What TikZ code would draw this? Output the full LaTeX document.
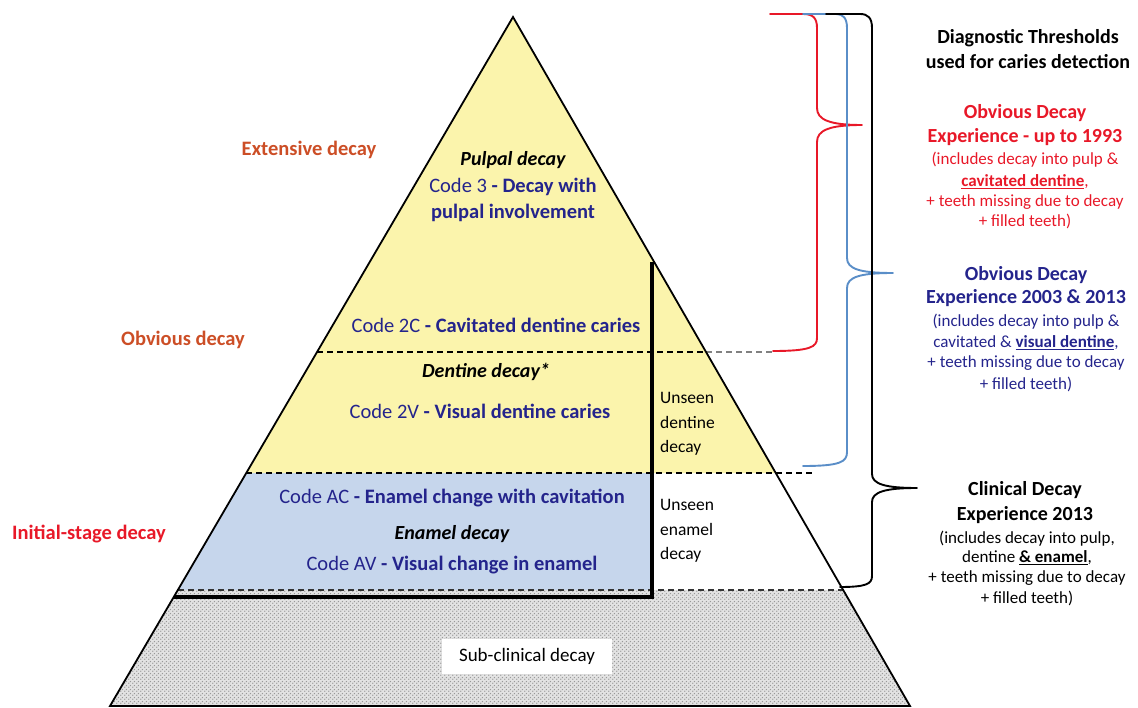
\documentclass[tikz,border=0pt]{standalone}
\usepackage{fontspec}
\setmainfont{Carlito}
\usetikzlibrary{patterns}
\definecolor{pyel}{RGB}{251,244,172}
\definecolor{pblue}{RGB}{198,214,236}
\definecolor{navy}{RGB}{36,36,140}
\definecolor{orred}{RGB}{204,78,38}
\definecolor{bred}{RGB}{232,24,40}
\definecolor{bbl}{RGB}{90,142,200}
\pgfdeclarepatternformonly{halftone}{\pgfpointorigin}{\pgfpoint{4pt}{4pt}}{\pgfpoint{4pt}{4pt}}{%
  \pgfpathcircle{\pgfpoint{1pt}{1pt}}{0.9pt}%
  \pgfpathcircle{\pgfpoint{3pt}{3pt}}{0.9pt}%
  \pgfusepath{fill}}
\tikzset{
  edge/.style={line width=1.8pt, line join=miter},
  dline/.style={line width=1.3pt, dash pattern=on 6pt off 4pt},
  thick line/.style={line width=3.5pt},
  brace/.style={line width=1.9pt, line join=round, line cap=round},
  lftlbl/.style={font=\fontsize{20.5}{24}\selectfont\bfseries, text=orred, inner sep=0pt},
  codetxt/.style={font=\fontsize{20.5}{24}\selectfont, text=navy, inner sep=0pt},
  itl/.style={font=\fontsize{20}{24}\selectfont\bfseries\itshape, text=black, inner sep=0pt},
  unseen/.style={font=\fontsize{17.5}{24.5}\selectfont, align=left, anchor=west, inner sep=0pt},
  head/.style={font=\fontsize{20}{24}\selectfont\bfseries, inner sep=0pt},
  small/.style={font=\fontsize{17}{20}\selectfont, inner sep=0pt},
}
\begin{document}
\begin{tikzpicture}[x=1pt,y=-1pt]
\useasboundingbox (0,0) rectangle (1138,708);
% key points
\coordinate (A) at (513,17);
\coordinate (BL) at (110,706);
\coordinate (BR) at (910,706);
\coordinate (L352) at (317,352);
\coordinate (R352) at (706,352);
\coordinate (L473) at (246,473);
\coordinate (R473) at (776,473);
\coordinate (L590) at (178,590);
\coordinate (R590) at (843,590);
\coordinate (L597) at (174,597);
\coordinate (V1) at (652,262);
\coordinate (V2) at (652,597);
% fills
\fill[pyel] (A) -- (L473) -- (R473) -- cycle;
\fill[pblue] (L473) -- (652,473) -- (V2) -- (L597) -- cycle;
\fill[gray!22] (L590) -- (R590) -- (BR) -- (BL) -- cycle;
\fill[pattern=halftone, pattern color=gray!80] (L590) -- (R590) -- (BR) -- (BL) -- cycle;
% dashed levels
\draw[dline] (L352) -- (R352);
\draw[dline, gray] (R352) -- (773,352);
\draw[dline] (L473) -- (813,473);
\draw[dline, black!80] (L590) -- (R590);
% outline
\draw[edge] (A) -- (BL) -- (BR) -- cycle;
% thick L line
\draw[thick line, line join=miter] (V1) -- (V2) -- (L597);
% braces
\draw[brace, bred] (770,14) -- (803,14) .. controls (813,14) and (817,18) .. (817,28)
  -- (817,108) .. controls (817,120) and (830,125) .. (862,125)
  .. controls (830,125) and (817,130) .. (817,142)
  -- (817,338) .. controls (817,347) and (810,351) .. (773,351);
\draw[brace, bbl] (803,14) -- (836,14) .. controls (843,14) and (847,18) .. (847,28)
  -- (847,258) .. controls (847,269) and (860,273) .. (893,273)
  .. controls (860,273) and (847,277) .. (847,288)
  -- (847,452) .. controls (847,462) and (840,466) .. (803,466);
\draw[brace, black] (826,14) -- (860,14) .. controls (868,14) and (872,18) .. (872,28)
  -- (872,474) .. controls (872,484) and (885,488) .. (917,488)
  .. controls (885,488) and (872,492) .. (872,502)
  -- (872,576) .. controls (872,584) and (866,587) .. (840,587);
% left labels
\node[lftlbl] (ext) at (309,150) {Extensive decay};
\node[lftlbl] (obv) at (183,340) {Obvious decay};
\node[lftlbl, text=bred] (ini) at (89,534) {Initial-stage decay};
% pyramid texts
\node[itl] (pulpal) at (513,160) {Pulpal decay};
\node[codetxt] (c3) at (513,187) {Code 3 \textbf{- Decay with}};
\node[codetxt] (c3b) at (513,213) {\textbf{pulpal involvement}};
\node[codetxt] (c2c) at (496,325) {Code 2C \textbf{- Cavitated dentine caries}};
\node[itl] (dent) at (486,372) {Dentine decay*};
\node[codetxt] (c2v) at (480,411) {Code 2V \textbf{- Visual dentine caries}};
\node[codetxt] (cac) at (452,498) {Code AC \textbf{- Enamel change with cavitation}};
\node[itl] (enam) at (452,534) {Enamel decay};
\node[codetxt] (cav) at (452,565) {Code AV \textbf{- Visual change in enamel}};
\node[unseen] (ud) at (660,424) {Unseen\\dentine\\decay};
\node[unseen] (ue) at (660,531) {Unseen\\enamel\\decay};
\node[fill=white, minimum width=170pt, minimum height=35pt, inner sep=0pt,
      font=\fontsize{19}{22}\selectfont] (sub) at (527,656) {Sub-clinical decay};
% right texts
\node[head] (dt1) at (1028,38) {Diagnostic Thresholds};
\node[head] (dt2) at (1028,62) {used for caries detection};
\node[head, text=bred] (r1) at (1025,113) {Obvious Decay};
\node[head, text=bred] (r2) at (1025,137) {Experience - up to 1993};
\node[small, text=bred] (r3) at (1025,160) {(includes decay into pulp \&};
\node[small, text=bred] (r4) at (1025,182) {\underline{\textbf{cavitated dentine}},};
\node[small, text=bred] (r5) at (1025,202) {+ teeth missing due to decay};
\node[small, text=bred] (r6) at (1025,221) {+ filled teeth)};
\node[head, text=navy] (b1) at (1026,275) {Obvious Decay};
\node[head, text=navy] (b2) at (1026,298) {Experience 2003 \& 2013};
\node[small, text=navy] (b3) at (1026,322) {(includes decay into pulp \&};
\node[small, text=navy] (b4) at (1026,343) {cavitated \& \underline{\textbf{visual dentine}},};
\node[small, text=navy] (b5) at (1026,363) {+ teeth missing due to decay};
\node[small, text=navy] (b6) at (1026,384) {+ filled teeth)};
\node[head] (k1) at (1025,490) {Clinical Decay};
\node[head] (k2) at (1025,515) {Experience 2013};
\node[small] (k3) at (1027,539) {(includes decay into pulp,};
\node[small] (k4) at (1027,558) {dentine \underline{\textbf{\& enamel}},};
\node[small] (k5) at (1027,578) {+ teeth missing due to decay};
\node[small] (k6) at (1027,598) {+ filled teeth)};
\end{tikzpicture}
\end{document}
